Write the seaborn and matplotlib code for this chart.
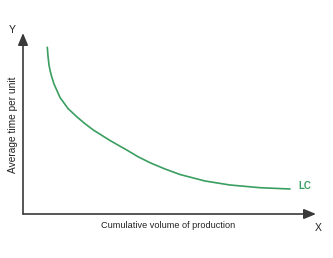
import matplotlib
matplotlib.use("Agg")
import matplotlib.pyplot as plt
import seaborn as sns
import pandas as pd

# Learning curve values (arbitrary units)
volume = [24.3, 25.0, 26.0, 27.2, 28.7, 31.0, 33.7, 37.0, 45.0, 53.7, 62.0, 70.3, 87.0, 103.7, 115.0, 127.0, 142.0, 157.0, 182.0, 207.0, 237.0, 267.0]
avg_time = [166.7, 158.0, 149.0, 143.0, 137.3, 130.0, 124.0, 116.5, 105.5, 97.3, 90.3, 84.0, 73.5, 64.0, 57.3, 51.3, 45.0, 39.5, 33.0, 29.0, 26.3, 25.0]
x_label = "Cumulative volume of production"
y_label = "Average time per unit"
curve_label = "LC"

df = pd.DataFrame({"volume": volume, "avg_time": avg_time})

sns.set_theme(style="white")
plt.rcParams["font.family"] = ["Liberation Sans", "DejaVu Sans"]

W, H = 333, 258
fig = plt.figure(figsize=(W / 100, H / 100), dpi=100)
ax = fig.add_axes([23 / W, (H - 214) / H, (316 - 23) / W, (214 - 33) / H])
green = "#3a9e60"
axis_col = "#3a3a3a"

sns.lineplot(data=df, x="volume", y="avg_time", ax=ax, color=green, linewidth=1.2)
ax.set_xlim(0, 293)
ax.set_ylim(0, 181)
for s in ax.spines.values():
    s.set_visible(False)
ax.set_xticks([])
ax.set_yticks([])
ax.set_xlabel("")
ax.set_ylabel("")
ax.patch.set_alpha(0)

# axes arrows
ax.annotate("", xy=(1.0, 0), xytext=(0, 0), xycoords="axes fraction",
            arrowprops=dict(arrowstyle="-|>,head_length=0.6,head_width=0.25", color=axis_col, lw=1.2, shrinkA=0, shrinkB=0))
ax.annotate("", xy=(0, 1.0), xytext=(0, 0), xycoords="axes fraction",
            arrowprops=dict(arrowstyle="-|>,head_length=0.6,head_width=0.25", color=axis_col, lw=1.2, shrinkA=0, shrinkB=0))

fig.text(168 / W, 1 - 225.5 / H, x_label, ha="center", va="center", fontsize=6.55, color="#222222")
fig.text(12.7 / W, 1 - 125 / H, y_label, ha="center", va="center", rotation=90, fontsize=7.3, color="#222222")
fig.text(12 / W, 1 - 30 / H, "Y", ha="center", va="center", fontsize=7.5, color="#222222")
fig.text(318 / W, 1 - 228 / H, "X", ha="center", va="center", fontsize=7.5, color="#222222")
ax.text(volume[-1] + 8, avg_time[-1] + 3, curve_label, ha="left", va="center", fontsize=7, color=green, fontweight="bold")

fig.savefig("out.png", dpi=100)
